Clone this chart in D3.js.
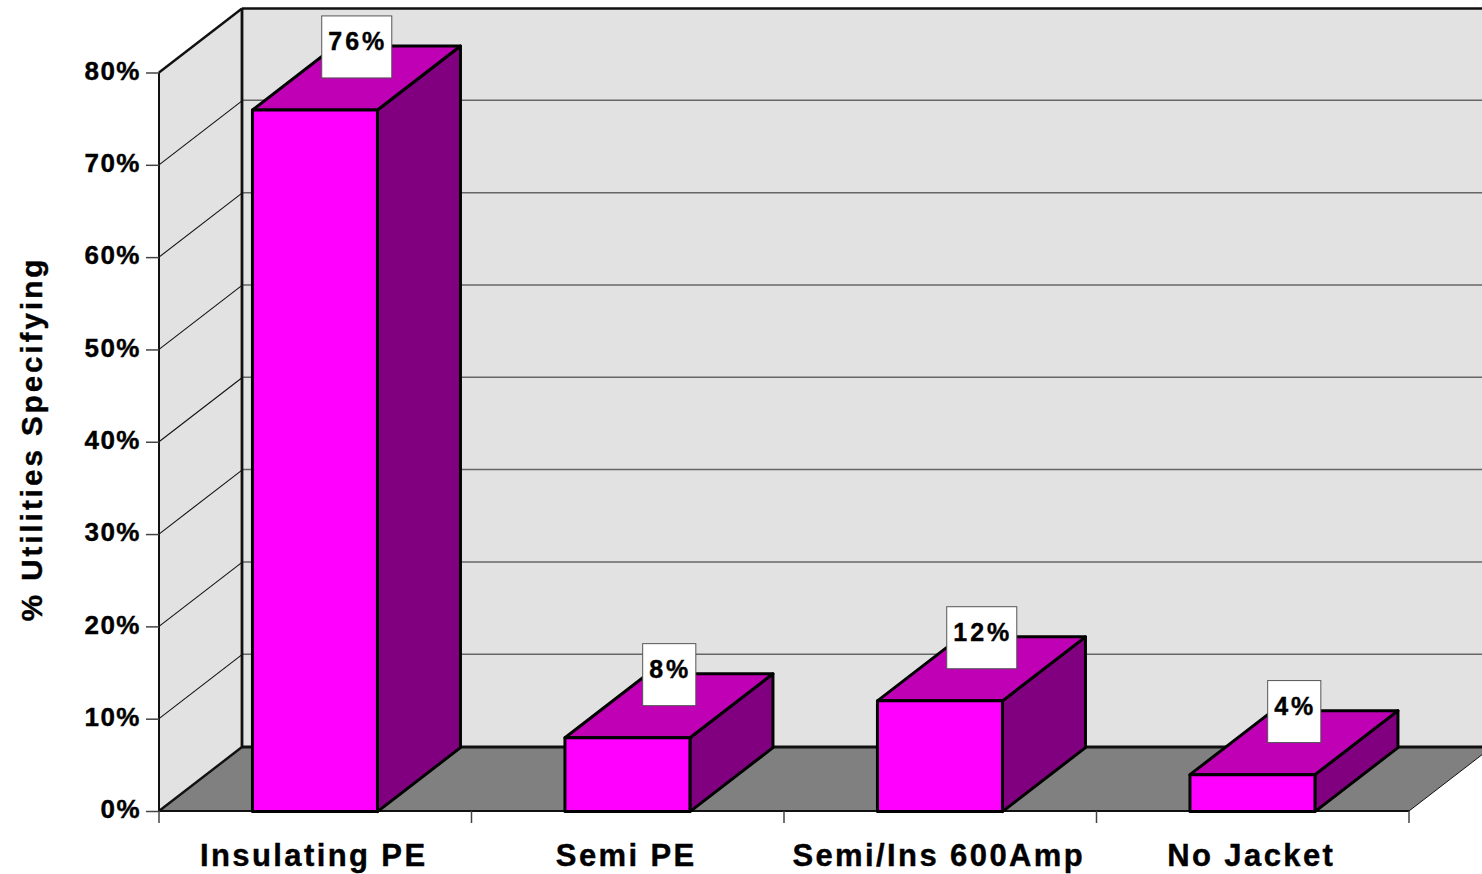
<!DOCTYPE html>
<html>
<head>
<meta charset="utf-8">
<script src="https://cdn.jsdelivr.net/npm/d3@7"></script>
<style>
  html, body { margin: 0; padding: 0; background: #fff; overflow: hidden; }
  text { font-family: "Liberation Sans", Arial, sans-serif; font-weight: bold; fill: #000; stroke: #000; stroke-width: 0.4px; }
</style>
</head>
<body>
<div id="chart"></div>
<script>
// chart values
var categories = ["Insulating PE", "Semi PE", "Semi/Ins 600Amp", "No Jacket"];
var percents = [76, 8, 12, 4];
var yTicks = [0, 10, 20, 30, 40, 50, 60, 70, 80];
var yTitle = "% Utilities Specifying";

var svgWidth = 1482;
var svgHeight = 874;

// front plane of the plot box and the shift to its back plane
var plot = { left: 159, right: 1409, top: 72.5, bottom: 811 };
var depth = { x: 83, y: -64 };

var svg = d3.select("#chart")
  .append("svg")
  .attr("width", svgWidth)
  .attr("height", svgHeight)
  .style("display", "block");

var xBand = d3.scaleBand()
  .domain(categories)
  .range([plot.left, plot.right])
  .paddingInner(0.6)
  .paddingOuter(0.3);

var xSlots = d3.scaleLinear()
  .domain([0, categories.length])
  .range([plot.left, plot.right]);

var yScale = d3.scaleLinear()
  .domain([0, 80])
  .range([plot.bottom, plot.top]);

function poly(points) {
  return points.map(p => p.join(",")).join(" ");
}

//___________________________________________
// walls and floor

var y0 = yScale(0), yMax = yScale(80);

svg.append("polygon")
  .attr("points", poly([
    [plot.left + depth.x, yMax + depth.y],
    [plot.right + depth.x, yMax + depth.y],
    [plot.right + depth.x, y0 + depth.y],
    [plot.left + depth.x, y0 + depth.y]
  ]))
  .attr("fill", "#e2e2e2");

svg.append("polygon")
  .attr("points", poly([
    [plot.left, yMax],
    [plot.left + depth.x, yMax + depth.y],
    [plot.left + depth.x, y0 + depth.y],
    [plot.left, y0]
  ]))
  .attr("fill", "#e2e2e2");

svg.append("polygon")
  .attr("points", poly([
    [plot.left, y0],
    [plot.left + depth.x, y0 + depth.y],
    [plot.right + depth.x, y0 + depth.y],
    [plot.right, y0]
  ]))
  .attr("fill", "#808080");

// gridlines, thin on the side wall and grey along the back wall
var gridTicks = yTicks.filter(d => d > 0 && d < 80);

svg.selectAll(".gridSide")
  .data(gridTicks)
  .enter()
  .append("line")
  .attr("class", "gridSide")
  .attr("x1", plot.left)
  .attr("y1", d => yScale(d))
  .attr("x2", plot.left + depth.x)
  .attr("y2", d => yScale(d) + depth.y)
  .attr("stroke", "#111")
  .attr("stroke-width", 1.1);

svg.selectAll(".gridBack")
  .data(gridTicks)
  .enter()
  .append("line")
  .attr("class", "gridBack")
  .attr("x1", plot.left + depth.x)
  .attr("y1", d => yScale(d) + depth.y - 0.5)
  .attr("x2", plot.right + depth.x)
  .attr("y2", d => yScale(d) + depth.y - 0.5)
  .attr("stroke", "#666")
  .attr("stroke-width", 1.5);

// box outline
var outline = [
  [plot.left, yMax, plot.left + depth.x, yMax + depth.y, 2.4],
  [plot.left + depth.x, yMax + depth.y, plot.right + depth.x, yMax + depth.y, 2.6],
  [plot.left + depth.x, yMax + depth.y, plot.left + depth.x, y0 + depth.y, 2.8],
  [plot.left + depth.x, y0 + depth.y, plot.right + depth.x, y0 + depth.y, 3],
  [plot.left, y0, plot.left + depth.x, y0 + depth.y, 2.4],
  [plot.left, yMax, plot.left, y0, 2],
  [plot.left, y0, plot.right, y0, 1.8],
  [plot.right, y0, plot.right + depth.x, y0 + depth.y, 1]
];

svg.selectAll(".edge")
  .data(outline)
  .enter()
  .append("line")
  .attr("class", "edge")
  .attr("x1", d => d[0])
  .attr("y1", d => d[1])
  .attr("x2", d => d[2])
  .attr("y2", d => d[3])
  .attr("stroke", "#111")
  .attr("stroke-width", d => d[4]);

//___________________________________________
// axes

var leftAxis = d3.axisLeft(yScale)
  .tickValues(yTicks)
  .tickFormat(d => d + "%")
  .tickSize(13)
  .tickPadding(5);

var yAxisGroup = svg.append("g")
  .attr("transform", `translate(${plot.left}, 0)`)
  .call(leftAxis);

yAxisGroup.select(".domain").remove();
yAxisGroup.selectAll("line").attr("stroke", "#444").attr("stroke-width", 1.5);
yAxisGroup.selectAll("text")
  .attr("font-size", "26px")
  .attr("dy", "0.26em")
  .style("letter-spacing", "1.5px");

var slotAxis = d3.axisBottom(xSlots)
  .tickValues(d3.range(categories.length + 1))
  .tickFormat("")
  .tickSize(12);

var slotGroup = svg.append("g")
  .attr("transform", `translate(-0.5, ${plot.bottom})`)
  .call(slotAxis);

slotGroup.select(".domain").remove();
slotGroup.selectAll("line").attr("stroke", "#444").attr("stroke-width", 1.5);

var bottomAxis = d3.axisBottom(xBand)
  .tickSize(0)
  .tickPadding(33);

var xAxisGroup = svg.append("g")
  .attr("transform", `translate(-1.5, ${plot.bottom})`)
  .call(bottomAxis);

xAxisGroup.select(".domain").remove();
xAxisGroup.selectAll("text")
  .attr("font-size", "31px")
  .style("letter-spacing", "2.4px");

svg.append("text")
  .attr("transform", `translate(42, 439) rotate(-90)`)
  .attr("text-anchor", "middle")
  .attr("font-size", "29.5px")
  .style("letter-spacing", "3px")
  .text(yTitle);

//___________________________________________
// bars: front, top and side faces

var bars = svg.selectAll(".bar")
  .data(percents)
  .enter()
  .append("g")
  .attr("class", "bar")
  .attr("transform", "translate(-0.3, 0.6)");

var barX = (d, i) => xBand(categories[i]);
var barW = xBand.bandwidth();

function faceAttrs(sel, fill) {
  return sel.attr("fill", fill)
    .attr("stroke", "#000")
    .attr("stroke-width", 3)
    .attr("stroke-linejoin", "round");
}

faceAttrs(bars.append("polygon"), "#800080")
  .attr("points", (d, i) => poly([
    [barX(d, i) + barW, yScale(d)],
    [barX(d, i) + barW + depth.x, yScale(d) + depth.y],
    [barX(d, i) + barW + depth.x, y0 + depth.y],
    [barX(d, i) + barW, y0]
  ]));

faceAttrs(bars.append("polygon"), "#bf00b4")
  .attr("points", (d, i) => poly([
    [barX(d, i), yScale(d)],
    [barX(d, i) + depth.x, yScale(d) + depth.y],
    [barX(d, i) + barW + depth.x, yScale(d) + depth.y],
    [barX(d, i) + barW, yScale(d)]
  ]));

faceAttrs(bars.append("rect"), "#ff00ff")
  .attr("x", barX)
  .attr("y", d => yScale(d))
  .attr("width", barW)
  .attr("height", d => y0 - yScale(d));

//___________________________________________
// value labels sitting on the top faces

var labels = svg.selectAll(".valueLabel")
  .data(percents)
  .enter()
  .append("g")
  .attr("class", "valueLabel")
  .attr("transform", (d, i) =>
    `translate(${barX(d, i) + (barW + depth.x) / 2}, ${yScale(d) - 93.5})`);

var labelBoxes = labels.append("rect")
  .attr("y", 0)
  .attr("height", 62)
  .attr("fill", "#fff")
  .attr("stroke", "#555")
  .attr("stroke-width", 1);

var labelText = labels.append("text")
  .attr("x", 1)
  .attr("y", 34)
  .attr("text-anchor", "middle")
  .attr("font-size", "25px")
  .style("letter-spacing", "3px")
  .text(d => d + "%");

// boxes are sized from the rendered text
labelText.each(function (d, i) {
  var w = this.getComputedTextLength() + 11;
  d3.select(labelBoxes.nodes()[i])
    .attr("x", -w / 2)
    .attr("width", w);
});
</script>
</body>
</html>
